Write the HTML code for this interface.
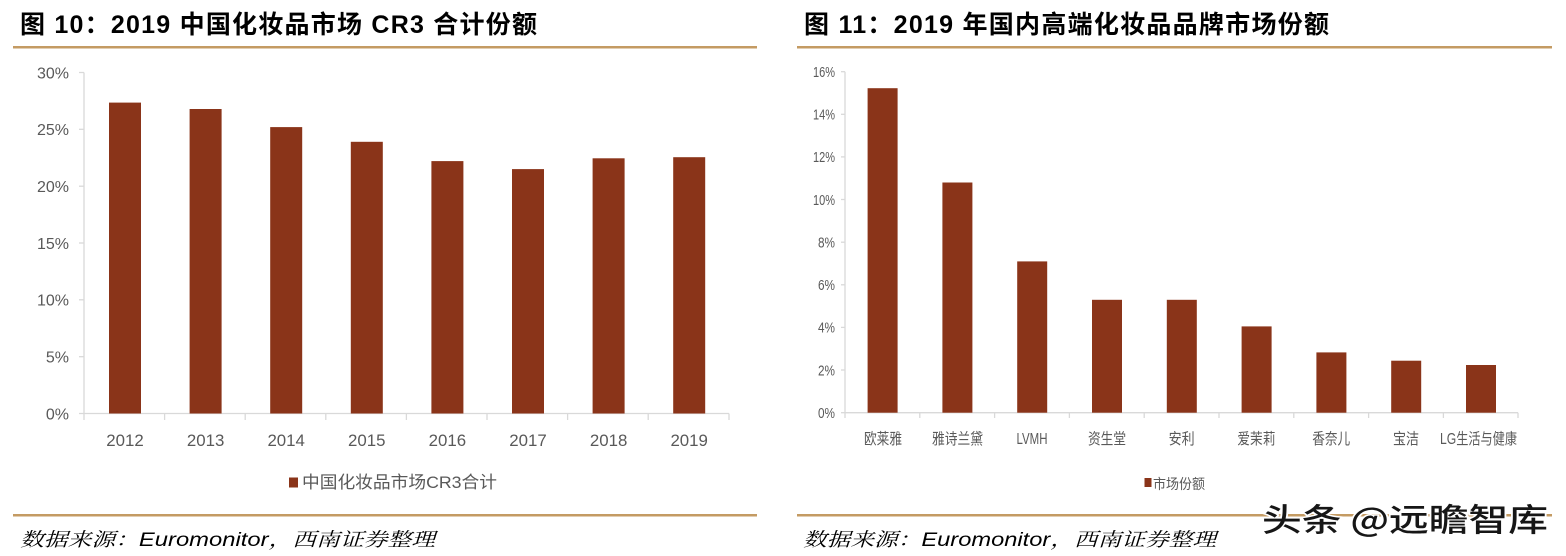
<!DOCTYPE html>
<html>
<head>
<meta charset="utf-8">
<style>
html,body{margin:0;padding:0;background:#fff;}
body{width:1566px;height:556px;overflow:hidden;}
svg{display:block;}
.t{font-family:"Liberation Sans","Noto Sans CJK SC",sans-serif;font-weight:bold;fill:#000;}
.ax{font-family:"Liberation Sans","Noto Sans CJK SC",sans-serif;fill:#595959;}
.src{font-family:"Liberation Sans","Noto Serif CJK SC",serif;font-style:italic;fill:#000;}
</style>
</head>
<body>
<svg width="1566" height="556" viewBox="0 0 1566 556" xmlns="http://www.w3.org/2000/svg">
<rect width="1566" height="556" fill="#fff"/>

<!-- ===== LEFT CHART ===== -->
<text class="t" x="20" y="33" font-size="25" textLength="517" lengthAdjust="spacing">图 10：2019 中国化妆品市场 CR3 合计份额</text>
<rect x="13" y="46" width="744" height="2.5" fill="#c49b63"/>

<!-- axes -->
<g stroke="#d9d9d9" stroke-width="1.3" fill="none">
<line x1="84" y1="72.5" x2="84" y2="413.5"/>
<line x1="84" y1="413.5" x2="729" y2="413.5"/>
<line x1="79" y1="72.5" x2="84" y2="72.5"/>
<line x1="79" y1="129.3" x2="84" y2="129.3"/>
<line x1="79" y1="186.2" x2="84" y2="186.2"/>
<line x1="79" y1="243" x2="84" y2="243"/>
<line x1="79" y1="299.8" x2="84" y2="299.8"/>
<line x1="79" y1="356.7" x2="84" y2="356.7"/>
<line x1="79" y1="413.5" x2="84" y2="413.5"/>
<line x1="84" y1="413.5" x2="84" y2="420"/>
<line x1="164.6" y1="413.5" x2="164.6" y2="420"/>
<line x1="245.2" y1="413.5" x2="245.2" y2="420"/>
<line x1="325.8" y1="413.5" x2="325.8" y2="420"/>
<line x1="406.4" y1="413.5" x2="406.4" y2="420"/>
<line x1="487" y1="413.5" x2="487" y2="420"/>
<line x1="567.6" y1="413.5" x2="567.6" y2="420"/>
<line x1="648.2" y1="413.5" x2="648.2" y2="420"/>
<line x1="729" y1="413.5" x2="729" y2="420"/>
</g>

<g class="ax" font-size="16" text-anchor="end">
<text x="69" y="78.3">30%</text>
<text x="69" y="135.1">25%</text>
<text x="69" y="192">20%</text>
<text x="69" y="248.8">15%</text>
<text x="69" y="305.6">10%</text>
<text x="69" y="362.5">5%</text>
<text x="69" y="419.3">0%</text>
</g>

<g fill="#8a3419">
<rect x="109" y="102.6" width="32" height="310.9"/>
<rect x="189.6" y="109" width="32" height="304.5"/>
<rect x="270.2" y="127.1" width="32" height="286.4"/>
<rect x="350.8" y="141.8" width="32" height="271.7"/>
<rect x="431.4" y="161.1" width="32" height="252.4"/>
<rect x="512" y="169.1" width="32" height="244.4"/>
<rect x="592.6" y="158.3" width="32" height="255.2"/>
<rect x="673.2" y="157.2" width="32" height="256.3"/>
</g>

<g class="ax" font-size="17" text-anchor="middle">
<text x="125" y="446" textLength="37.5" lengthAdjust="spacingAndGlyphs">2012</text>
<text x="205.6" y="446" textLength="37.5" lengthAdjust="spacingAndGlyphs">2013</text>
<text x="286.2" y="446" textLength="37.5" lengthAdjust="spacingAndGlyphs">2014</text>
<text x="366.8" y="446" textLength="37.5" lengthAdjust="spacingAndGlyphs">2015</text>
<text x="447.4" y="446" textLength="37.5" lengthAdjust="spacingAndGlyphs">2016</text>
<text x="528" y="446" textLength="37.5" lengthAdjust="spacingAndGlyphs">2017</text>
<text x="608.6" y="446" textLength="37.5" lengthAdjust="spacingAndGlyphs">2018</text>
<text x="689.2" y="446" textLength="37.5" lengthAdjust="spacingAndGlyphs">2019</text>
</g>

<rect x="289" y="477.5" width="9" height="10" fill="#8a3419"/>
<text class="ax" x="302" y="488" font-size="17" textLength="195" lengthAdjust="spacingAndGlyphs">中国化妆品市场CR3合计</text>

<rect x="13" y="514" width="744" height="2.5" fill="#c49b63"/>
<text class="src" x="20" y="546" font-size="19" textLength="415" lengthAdjust="spacingAndGlyphs">数据来源：Euromonitor，西南证券整理</text>

<!-- ===== RIGHT CHART ===== -->
<text class="t" x="804" y="33" font-size="25" textLength="525" lengthAdjust="spacing">图 11：2019 年国内高端化妆品品牌市场份额</text>
<rect x="797" y="46" width="755" height="2.5" fill="#c49b63"/>

<g stroke="#d9d9d9" stroke-width="1.3" fill="none">
<line x1="845" y1="71.7" x2="845" y2="412.7"/>
<line x1="845" y1="412.7" x2="1518" y2="412.7"/>
<line x1="841" y1="71.7" x2="845" y2="71.7"/>
<line x1="841" y1="114.3" x2="845" y2="114.3"/>
<line x1="841" y1="156.9" x2="845" y2="156.9"/>
<line x1="841" y1="199.5" x2="845" y2="199.5"/>
<line x1="841" y1="242.2" x2="845" y2="242.2"/>
<line x1="841" y1="284.8" x2="845" y2="284.8"/>
<line x1="841" y1="327.4" x2="845" y2="327.4"/>
<line x1="841" y1="370" x2="845" y2="370"/>
<line x1="841" y1="412.7" x2="845" y2="412.7"/>
<line x1="845" y1="412.7" x2="845" y2="418"/>
<line x1="919.8" y1="412.7" x2="919.8" y2="418"/>
<line x1="994.6" y1="412.7" x2="994.6" y2="418"/>
<line x1="1069.4" y1="412.7" x2="1069.4" y2="418"/>
<line x1="1144.2" y1="412.7" x2="1144.2" y2="418"/>
<line x1="1219" y1="412.7" x2="1219" y2="418"/>
<line x1="1293.8" y1="412.7" x2="1293.8" y2="418"/>
<line x1="1368.6" y1="412.7" x2="1368.6" y2="418"/>
<line x1="1443.4" y1="412.7" x2="1443.4" y2="418"/>
<line x1="1518" y1="412.7" x2="1518" y2="418"/>
</g>

<g class="ax" font-size="14.5" text-anchor="end">
<text x="835" y="77" textLength="22" lengthAdjust="spacingAndGlyphs">16%</text>
<text x="835" y="119.6" textLength="22" lengthAdjust="spacingAndGlyphs">14%</text>
<text x="835" y="162.2" textLength="22" lengthAdjust="spacingAndGlyphs">12%</text>
<text x="835" y="204.8" textLength="22" lengthAdjust="spacingAndGlyphs">10%</text>
<text x="835" y="247.5" textLength="17" lengthAdjust="spacingAndGlyphs">8%</text>
<text x="835" y="290.1" textLength="17" lengthAdjust="spacingAndGlyphs">6%</text>
<text x="835" y="332.7" textLength="17" lengthAdjust="spacingAndGlyphs">4%</text>
<text x="835" y="375.3" textLength="17" lengthAdjust="spacingAndGlyphs">2%</text>
<text x="835" y="418" textLength="17" lengthAdjust="spacingAndGlyphs">0%</text>
</g>

<g fill="#8a3419">
<rect x="867.6" y="88.2" width="30" height="324.5"/>
<rect x="942.4" y="182.5" width="30" height="230.2"/>
<rect x="1017.2" y="261.4" width="30" height="151.3"/>
<rect x="1092" y="299.8" width="30" height="112.9"/>
<rect x="1166.8" y="299.8" width="30" height="112.9"/>
<rect x="1241.6" y="326.4" width="30" height="86.3"/>
<rect x="1316.4" y="352.4" width="30" height="60.3"/>
<rect x="1391.2" y="360.7" width="30" height="52"/>
<rect x="1466" y="365" width="30" height="47.7"/>
</g>

<g class="ax" font-size="15.5" text-anchor="middle">
<text x="883" y="444" textLength="38" lengthAdjust="spacingAndGlyphs">欧莱雅</text>
<text x="957.5" y="444" textLength="51" lengthAdjust="spacingAndGlyphs">雅诗兰黛</text>
<text x="1032" y="444" textLength="31" lengthAdjust="spacingAndGlyphs">LVMH</text>
<text x="1107" y="444" textLength="38" lengthAdjust="spacingAndGlyphs">资生堂</text>
<text x="1181.6" y="444" textLength="26" lengthAdjust="spacingAndGlyphs">安利</text>
<text x="1256.4" y="444" textLength="38" lengthAdjust="spacingAndGlyphs">爱茉莉</text>
<text x="1331.2" y="444" textLength="38" lengthAdjust="spacingAndGlyphs">香奈儿</text>
<text x="1406" y="444" textLength="26" lengthAdjust="spacingAndGlyphs">宝洁</text>
<text x="1478.5" y="444" textLength="77" lengthAdjust="spacingAndGlyphs">LG生活与健康</text>
</g>

<rect x="1144.5" y="478" width="7" height="9" fill="#8a3419"/>
<text class="ax" x="1153" y="489" font-size="14" textLength="52" lengthAdjust="spacingAndGlyphs">市场份额</text>

<rect x="797" y="514" width="755" height="2.5" fill="#c49b63"/>
<text class="src" x="803" y="546" font-size="19" textLength="413" lengthAdjust="spacingAndGlyphs">数据来源：Euromonitor，西南证券整理</text>

<!-- watermark -->
<text x="1262" y="531" font-family="'Noto Sans CJK SC','WenQuanYi Zen Hei',sans-serif" font-size="32" font-weight="500" fill="#161616" stroke="#ffffff" stroke-width="3" paint-order="stroke" textLength="286" lengthAdjust="spacingAndGlyphs">头条 @远瞻智库</text>
</svg>
</body>
</html>
